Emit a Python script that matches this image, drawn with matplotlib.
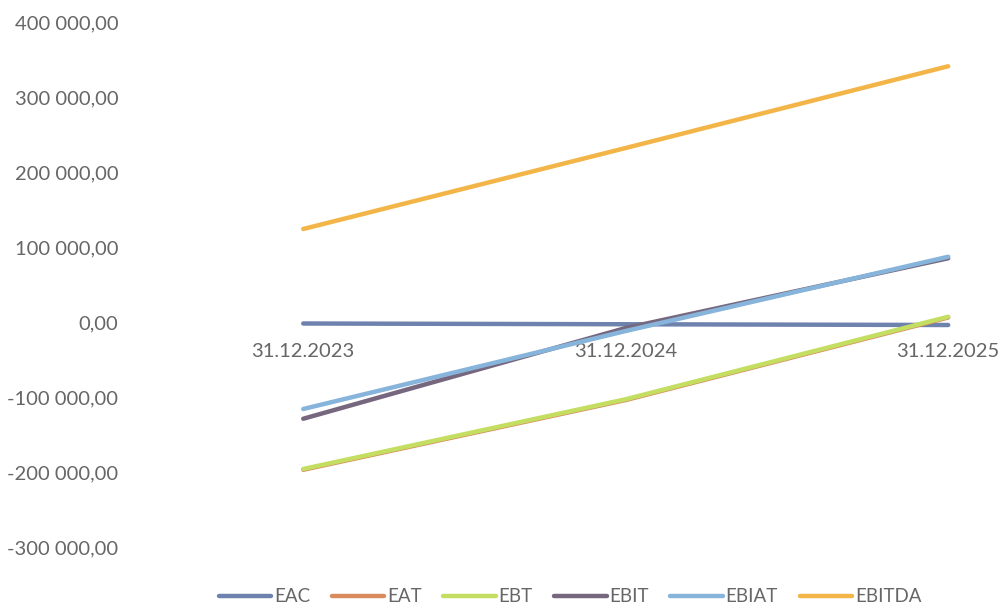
import numpy as np
import matplotlib.pyplot as plt
from matplotlib.ticker import FuncFormatter

dates = ["31.12.2023", "31.12.2024", "31.12.2025"]
eac = [-2000, -3000, -4000]
eat = [-197000, -104000, 6000]
ebt = [-196000, -103000, 7000]
ebit = [-129000, -8000, 85000]
ebiat = [-116000, -12000, 87000]
ebitda = [124000, 232000, 341000]

series = [("EAC", eac, "#6d82ad"),
          ("EAT", eat, "#d98b5c"),
          ("EBT", ebt, "#c4de62"),
          ("EBIT", ebit, "#76677f"),
          ("EBIAT", ebiat, "#86b4db"),
          ("EBITDA", ebitda, "#f3b548")]

plt.rcParams['font.family'] = ['Lato', 'DejaVu Sans']

def fmt(v, pos):
    s = f"{abs(v):,.2f}".replace(",", " ").replace(".", ",")
    return ("-" if v < 0 else "") + s

fig = plt.figure(figsize=(10.03, 6.09), dpi=100)
ax = fig.add_axes([142/1003, 1 - 547/609, (1003 - 142)/1003, 525/609])

x = np.arange(len(dates))
for name, vals, col in series:
    ax.plot(x, vals, color=col, lw=3.2, solid_capstyle='round', label=name)

ax.set_xlim(-0.5, 2.17)
ax.set_ylim(-300000, 400000)
ax.set_yticks(np.arange(-300000, 400001, 100000))
ax.yaxis.set_major_formatter(FuncFormatter(fmt))
ax.set_xticks(x)
ax.set_xticklabels(dates)

for s in ["top", "right", "left"]:
    ax.spines[s].set_visible(False)
ax.spines["bottom"].set_position(("data", 0))
ax.spines["bottom"].set_visible(False)
ax.tick_params(axis="y", length=0, pad=17, labelsize=14.5, labelcolor="#666666")
ax.tick_params(axis="x", length=0, pad=15, labelsize=14.5, labelcolor="#666666")

leg = ax.legend(loc="center", bbox_to_anchor=(0.497, -0.095), ncol=6, frameon=False,
                fontsize=13.5, handlelength=2.8, handletextpad=0.15, columnspacing=1.15)
for t in leg.get_texts():
    t.set_color("#666666")

fig.savefig("out.png", dpi=100, facecolor="white")
